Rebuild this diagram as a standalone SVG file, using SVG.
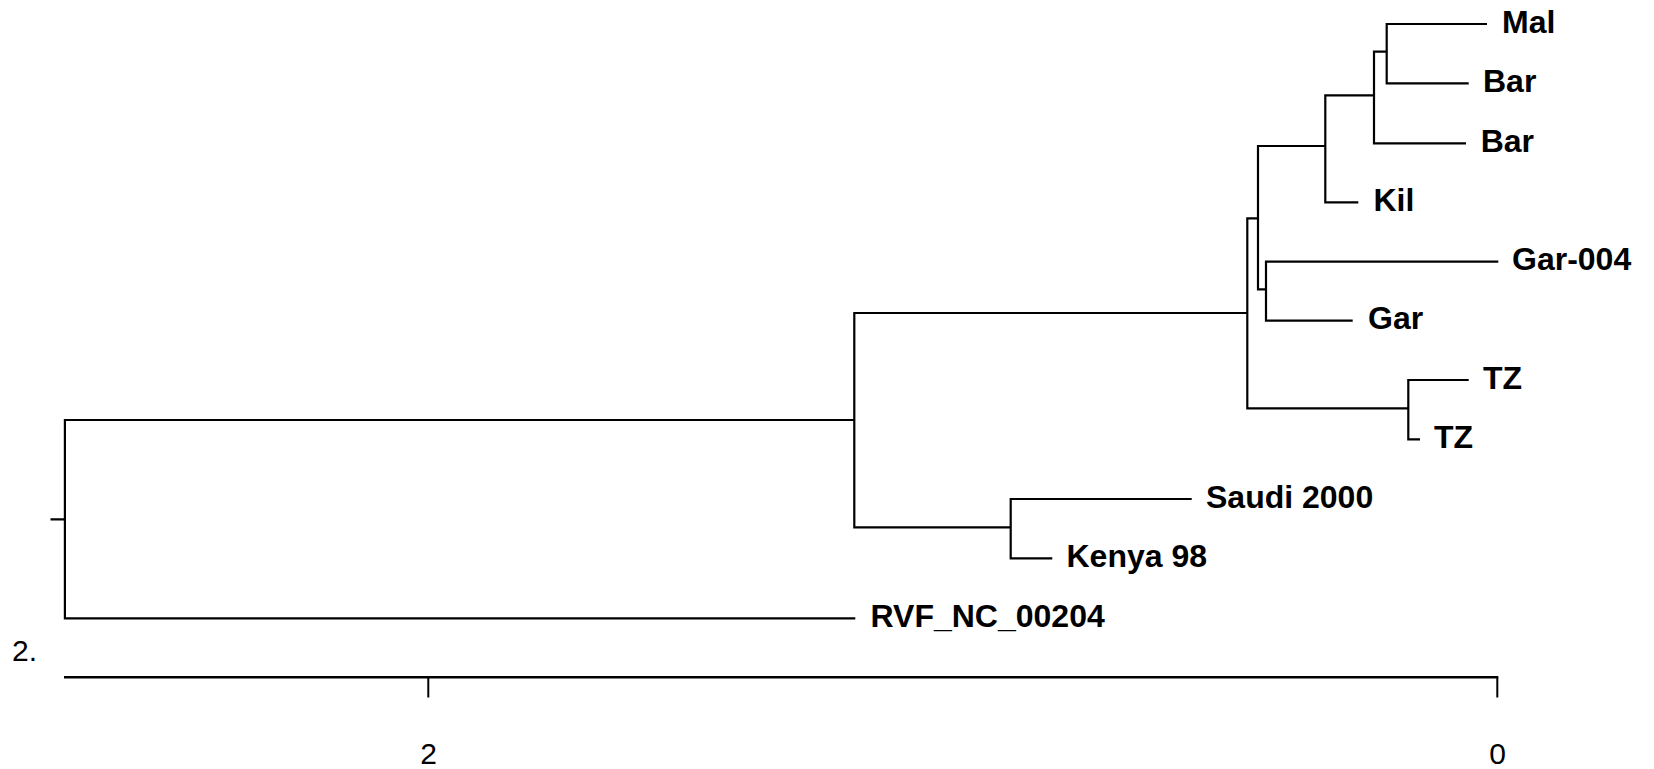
<svg xmlns="http://www.w3.org/2000/svg" width="1654" height="769" viewBox="0 0 1654 769">
<style>
.br{fill:none;stroke:#000;stroke-width:2.2;stroke-linejoin:miter;stroke-linecap:butt}
.ax{fill:none;stroke:#000;stroke-width:2.6}
.tk{fill:none;stroke:#000;stroke-width:2}
.lb{font-family:"Liberation Sans",Arial,sans-serif;font-weight:bold;font-size:32px;fill:#000}
.al{font-family:"Liberation Sans",Arial,sans-serif;font-size:30px;fill:#000}
</style>
<rect width="1654" height="769" fill="#fff"/>
<g id="connectors">
  <path class="br" d="M50.5,519.3 H64.9 M854.3,420 H64.9 V618.3 H855.3"/>
  <path class="br" d="M1247.3,313 H854.3 V527.3 H1010.7"/>
  <path class="br" d="M1191.7,499 H1010.7 V558.3 H1052.3"/>
  <path class="br" d="M1258,218.3 H1247.3 V408.3 H1408.3"/>
  <path class="br" d="M1468.7,380 H1408.3 V439.3 H1420"/>
  <path class="br" d="M1325.3,146 H1258 V289.3 H1266"/>
  <path class="br" d="M1498.3,261.7 H1266 V320.7 H1352.7"/>
  <path class="br" d="M1374,95.3 H1325.3 V202.3 H1358.3"/>
  <path class="br" d="M1386.7,51.7 H1374 V143.3 H1466"/>
  <path class="br" d="M1487,24 H1386.7 V83.3 H1468.7"/>
</g>
<g id="tip-mal"><text class="lb" x="1502" y="32.5">Mal</text></g>
<g id="tip-bar1"><text class="lb" x="1483" y="91.8">Bar</text></g>
<g id="tip-bar2"><text class="lb" x="1480.7" y="151.8">Bar</text></g>
<g id="tip-kil"><text class="lb" x="1373.5" y="210.8">Kil</text></g>
<g id="tip-gar004"><text class="lb" x="1512" y="270.2">Gar-004</text></g>
<g id="tip-gar"><text class="lb" x="1368" y="329.2">Gar</text></g>
<g id="tip-tz1"><text class="lb" x="1483" y="388.5">TZ</text></g>
<g id="tip-tz2"><text class="lb" x="1434" y="447.8">TZ</text></g>
<g id="tip-saudi"><text class="lb" x="1206" y="507.5">Saudi 2000</text></g>
<g id="tip-kenya"><text class="lb" x="1066.5" y="566.8">Kenya 98</text></g>
<g id="tip-rvf"><text class="lb" x="870.5" y="626.8">RVF_NC_00204</text></g>
<g id="axis">
  <text class="al" x="12" y="661">2.</text>
  <path class="ax" d="M64,677.3 H1498.3"/>
  <path class="tk" d="M428.3,677 V697.5 M1497.3,677 V697.5"/>
  <text class="al" x="428.5" y="763.5" text-anchor="middle">2</text>
  <text class="al" x="1497.5" y="763.5" text-anchor="middle">0</text>
</g>
</svg>
